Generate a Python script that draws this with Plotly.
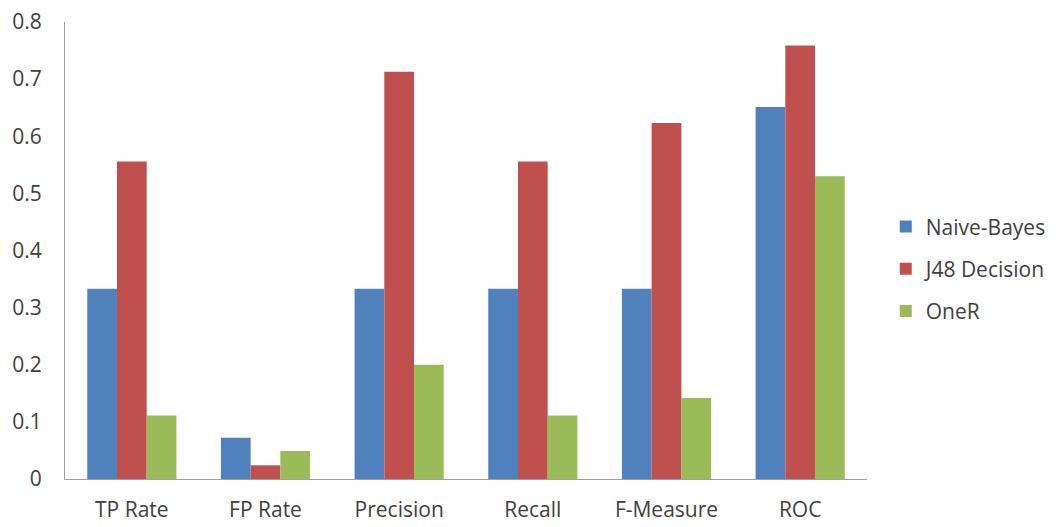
import plotly.graph_objects as go

categories = ["TP Rate", "FP Rate", "Precision", "Recall", "F-Measure", "ROC"]
naive_bayes = [0.333, 0.072, 0.333, 0.333, 0.333, 0.651]
j48 = [0.556, 0.024, 0.713, 0.556, 0.623, 0.759]
oner = [0.111, 0.049, 0.200, 0.111, 0.142, 0.530]

series = [("Naive-Bayes", naive_bayes, "#4F81BD"),
          ("J48 Decision", j48, "#C0504D"),
          ("OneR", oner, "#9BBB59")]

fig = go.Figure()
for name, vals, color in series:
    fig.add_trace(go.Bar(x=categories, y=vals, name=name, legendgroup=name,
                         marker=dict(color=color, line=dict(width=0))))

font_family = "Open Sans, Liberation Sans, sans-serif"
fig.update_layout(
    width=1057, height=527,
    margin=dict(l=65, r=190, t=22, b=48),
    paper_bgcolor="white", plot_bgcolor="white",
    barmode="group", bargap=0.333, bargroupgap=0,
    font=dict(family=font_family, size=21, color="#404040"),
    legend=dict(xref="container", yref="container", x=0.838, y=0.49,
                xanchor="left", yanchor="middle",
                font=dict(size=21, color="#404040"), itemsizing="constant",
                tracegroupgap=12),
    showlegend=True,
)
fig.update_xaxes(showline=True, linecolor="#A0A0A0", linewidth=1, ticks="",
                 tickfont=dict(size=21), showgrid=False, automargin=False,
                 ticklabelstandoff=12)
fig.update_yaxes(range=[0, 0.8], dtick=0.1, showline=True, linecolor="#A0A0A0", linewidth=1,
                 ticks="", showgrid=False, zeroline=False, tickfont=dict(size=21),
                 tickformat="~g", ticklabelstandoff=18, automargin=False)

fig.write_html("out.html",
               config={"displayModeBar": False},
               post_script="document.body.style.margin='0';document.body.style.overflow='hidden';")
